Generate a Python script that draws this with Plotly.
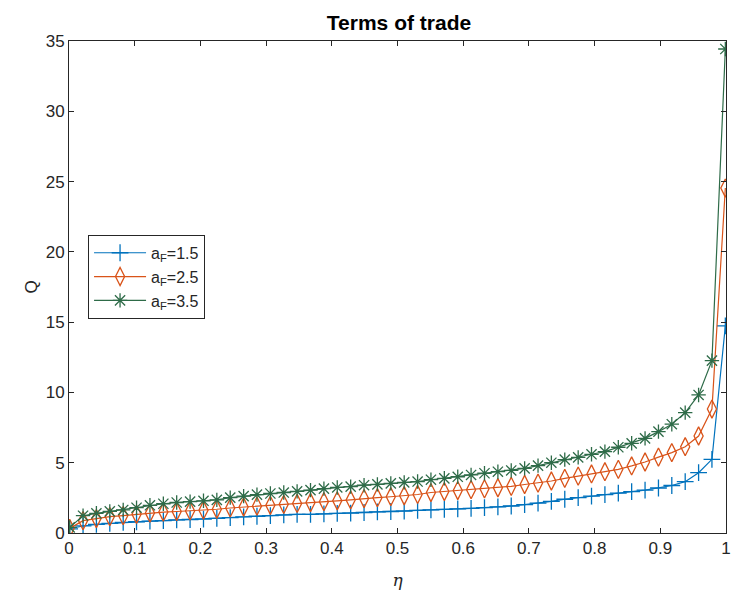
import plotly.graph_objects as go

eta = [0.0010, 0.0214, 0.0417, 0.0621, 0.0825, 0.1028, 0.1232, 0.1436, 0.1639, 0.1843,
       0.2047, 0.2250, 0.2454, 0.2658, 0.2861, 0.3065, 0.3269, 0.3472, 0.3676, 0.3880,
       0.4083, 0.4287, 0.4491, 0.4694, 0.4898, 0.5102, 0.5306, 0.5509, 0.5713, 0.5917,
       0.6120, 0.6324, 0.6528, 0.6731, 0.6935, 0.7139, 0.7342, 0.7546, 0.7750, 0.7953,
       0.8157, 0.8361, 0.8564, 0.8768, 0.8972, 0.9175, 0.9379, 0.9583, 0.9786, 0.9990]

q_15 = [0.30, 0.50, 0.62, 0.69, 0.76, 0.80, 0.85, 0.88, 0.93, 0.96,
        0.99, 1.04, 1.09, 1.14, 1.19, 1.24, 1.29, 1.33, 1.33, 1.36,
        1.40, 1.42, 1.46, 1.50, 1.53, 1.56, 1.61, 1.65, 1.68, 1.71,
        1.75, 1.80, 1.86, 1.92, 2.02, 2.12, 2.25, 2.40, 2.52, 2.62,
        2.73, 2.83, 2.95, 3.05, 3.20, 3.38, 3.65, 4.29, 5.24, 14.73]

q_25 = [0.33, 0.88, 1.02, 1.16, 1.23, 1.33, 1.42, 1.49, 1.53, 1.57,
        1.62, 1.69, 1.78, 1.85, 1.91, 1.97, 2.04, 2.10, 2.17, 2.23,
        2.29, 2.35, 2.45, 2.51, 2.58, 2.65, 2.74, 2.88, 2.95, 3.02,
        3.08, 3.14, 3.22, 3.32, 3.45, 3.55, 3.70, 3.89, 4.05, 4.20,
        4.36, 4.53, 4.77, 5.05, 5.40, 5.72, 6.14, 6.90, 8.82, 24.54]

q_35 = [0.40, 1.23, 1.40, 1.54, 1.64, 1.80, 1.97, 2.08, 2.17, 2.23,
        2.29, 2.36, 2.52, 2.62, 2.73, 2.81, 2.88, 2.96, 3.05, 3.16,
        3.24, 3.30, 3.40, 3.46, 3.53, 3.60, 3.66, 3.79, 3.89, 4.00,
        4.13, 4.25, 4.36, 4.45, 4.60, 4.79, 5.00, 5.22, 5.38, 5.60,
        5.79, 6.10, 6.38, 6.73, 7.21, 7.74, 8.56, 9.82, 12.26, 34.43]

series_names = ["a<sub>F</sub>=1.5", "a<sub>F</sub>=2.5", "a<sub>F</sub>=3.5"]
x_ticks = [0, 0.1, 0.2, 0.3, 0.4, 0.5, 0.6, 0.7, 0.8, 0.9, 1]
x_tick_text = ["0", "0.1", "0.2", "0.3", "0.4", "0.5", "0.6", "0.7", "0.8", "0.9", "1"]
y_ticks = [0, 5, 10, 15, 20, 25, 30, 35]

colors = ["#0072BD", "#D95319", "#2E6B48"]
symbols = ["cross-thin-open", "diamond-tall-open", "asterisk-open"]
sizes = [12, 13, 12]

fig = go.Figure()
for ys, name, c, s, sz in zip([q_15, q_25, q_35], series_names, colors, symbols, sizes):
    fig.add_trace(go.Scatter(
        x=eta, y=ys, name=name, mode="lines+markers",
        line=dict(color=c, width=1.2),
        marker=dict(symbol=s, size=sz, color=c, line=dict(color=c, width=1.3)),
    ))

axis_common = dict(
    showgrid=False, zeroline=False, showline=True, mirror="ticks",
    linecolor="#262626", linewidth=1, ticks="inside", ticklen=5,
    tickcolor="#262626", ticklabeloverflow="allow", automargin=False,
    tickfont=dict(family="Liberation Sans, Arial", size=17, color="#262626"),
)

fig.update_layout(
    width=731, height=598,
    margin=dict(l=69, r=5, t=41, b=65),
    paper_bgcolor="white", plot_bgcolor="white",
    title=dict(text="<b>Terms of trade</b>", x=399 / 731, xanchor="center",
               y=1 - 23 / 598, yanchor="middle",
               font=dict(family="Liberation Sans, Arial", size=21, color="black")),
    xaxis=dict(range=[0, 1], tickvals=x_ticks, ticktext=x_tick_text,
               title=dict(text="<i>η</i>", font=dict(family="DejaVu Serif, serif", size=17, color="#262626"),
                          standoff=16),
               **axis_common),
    yaxis=dict(range=[0, 35], tickvals=y_ticks,
               title=dict(text="Q", font=dict(family="Liberation Sans, Arial", size=17, color="#262626"),
                          standoff=3),
               **axis_common),
    legend=dict(x=0.029, y=0.606, xanchor="left", yanchor="top",
                bgcolor="white", bordercolor="#262626", borderwidth=1,
                font=dict(family="Liberation Sans, Arial", size=16, color="#262626"),
                tracegroupgap=0, itemwidth=52),
    showlegend=True,
)

fig.write_html("out.html", config={"displayModeBar": False},
               post_script="document.body.style.margin='0';document.body.style.overflow='hidden';")
